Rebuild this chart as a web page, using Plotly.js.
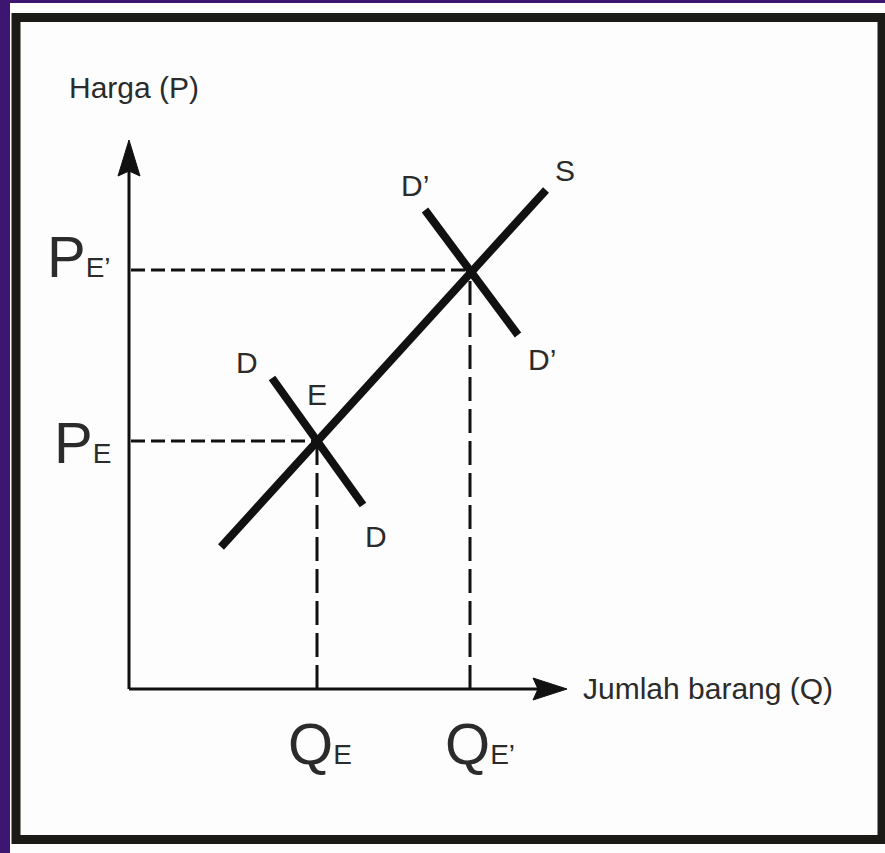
<!DOCTYPE html>
<html>
<head>
<meta charset="utf-8">
<script src="https://cdn.plot.ly/plotly-3.0.1.min.js"></script>
<style>html,body{margin:0;padding:0;background:#3c1670;}#chart{width:885px;height:853px;}</style>
</head>
<body>
<div id="chart"></div>
<script>
// ---- data (units; origin at the axes corner) ----
var axisTipQ = 43.8;           // end of the quantity axis (arrow tip)
var axisTipP = 54.9;           // end of the price axis (arrow tip)
var QE = 18.8, QE2 = 34.1;     // equilibrium quantities
var PE = 24.8, PE2 = 41.9;     // equilibrium prices
var supplyQ = [9.2, 41.7];
var supplyP = [14.2, 49.9];
var demandQ = [14.3, 23.4];
var demandP = [31.1, 18.4];
var demand2Q = [29.6, 38.9];
var demand2P = [47.9, 35.4];
var curveLabels = ["D’", "S", "D’", "D", "E", "D"];
var curveLabelQ = [28.6, 43.6, 41.3, 11.8, 18.8, 24.7];
var curveLabelP = [50.4, 51.9, 33.0, 32.7, 29.5, 15.3];
var yTitle = "Harga (P)";
var xTitle = "Jumlah barang (Q)";
var priceTicks = ["P<span style='font-size:28px'>E</span>", "P<span style='font-size:28px'>E’</span>"];
var qtyTicks = ["Q<span style='font-size:28px'>E</span>", "Q<span style='font-size:28px'>E’</span>"];
var priceTickPos = [24.7, 43.3];
var qtyTickPos = [19.1, 35.1];
var qtyTickLevel = -5.4;

var FONT = '"Liberation Sans", Arial, Helvetica, sans-serif';
var INK = '#111111';
var TXT = '#2b2b2b';

var traces = [];
// axes
traces.push({x:[0, axisTipQ - 2.5], y:[0, 0], mode:'lines', line:{color:INK, width:3}});
traces.push({x:[0, 0], y:[0, axisTipP - 2.5], mode:'lines', line:{color:INK, width:3}});
// dashed guides
traces.push({x:[0.2, QE], y:[PE, PE], mode:'lines', line:{color:INK, width:3, dash:'14px,6px'}});
traces.push({x:[0.2, QE2], y:[PE2, PE2], mode:'lines', line:{color:INK, width:3, dash:'14px,6px'}});
traces.push({x:[QE, QE], y:[0, PE], mode:'lines', line:{color:INK, width:3, dash:'24px,8px'}});
traces.push({x:[QE2, QE2], y:[0, PE2], mode:'lines', line:{color:INK, width:3, dash:'24px,8px'}});
// curves
traces.push({x:supplyQ, y:supplyP, mode:'lines', line:{color:INK, width:8}});
traces.push({x:demandQ, y:demandP, mode:'lines', line:{color:INK, width:8}});
traces.push({x:demand2Q, y:demand2P, mode:'lines', line:{color:INK, width:8}});

var ann = [];
for (var i = 0; i < curveLabels.length; i++) {
  ann.push({x:curveLabelQ[i], y:curveLabelP[i], text:curveLabels[i], showarrow:false,
    font:{family:FONT, size:30, color:TXT}, xanchor:'center', yanchor:'middle'});
}
ann.push({x:-6.2, y:60.2, text:yTitle, showarrow:false, xanchor:'left', yanchor:'middle',
  font:{family:FONT, size:30, color:TXT}});
ann.push({x:45.2, y:0.1, text:xTitle, showarrow:false, xanchor:'left', yanchor:'middle',
  font:{family:FONT, size:30, color:TXT}});
for (var j = 0; j < 2; j++) {
  ann.push({x:-1.6, y:priceTickPos[j], text:priceTicks[j], showarrow:false, xanchor:'right', yanchor:'middle',
    font:{family:FONT, size:58, color:TXT}});
}
for (var k = 0; k < 2; k++) {
  ann.push({x:qtyTickPos[k], y:qtyTickLevel, text:qtyTicks[k], showarrow:false, xanchor:'center', yanchor:'middle',
    font:{family:FONT, size:58, color:TXT}});
}

function px(v){return v/885;}
function py(v){return 1 - v/853;}
var shapes = [
  // white card
  {type:'rect', xref:'paper', yref:'paper', x0:px(10), x1:px(886), y0:py(853), y1:py(3),
   fillcolor:'#fdfdfd', line:{width:0}, layer:'below'},
  // black frame
  {type:'rect', xref:'paper', yref:'paper', x0:px(16), x1:px(882), y0:py(839.5), y1:py(17.5),
   fillcolor:'rgba(0,0,0,0)', line:{color:'#1c1a17', width:9}, layer:'below'},
  // arrow heads
  {type:'path', xref:'x', yref:'y', xsizemode:'pixel', ysizemode:'pixel', xanchor:0, yanchor:axisTipP,
   path:'M -11,-36 L 0,0 L 11,-36 L 0,-31 Z', fillcolor:INK, line:{color:INK, width:1}},
  {type:'path', xref:'x', yref:'y', xsizemode:'pixel', ysizemode:'pixel', xanchor:axisTipQ, yanchor:0,
   path:'M -34,11 L 0,0 L -34,-11 L -29,0 Z', fillcolor:INK, line:{color:INK, width:1}}
];

var layout = {
  width:885, height:853, autosize:false,
  margin:{l:0, r:0, t:0, b:0, pad:0},
  paper_bgcolor:'#3c1670', plot_bgcolor:'rgba(0,0,0,0)',
  showlegend:false, hovermode:false,
  xaxis:{range:[-12.9, 75.6], visible:false, fixedrange:true},
  yaxis:{range:[-16.4, 68.9], visible:false, fixedrange:true},
  annotations:ann, shapes:shapes
};
Plotly.newPlot('chart', traces, layout, {displayModeBar:false, staticPlot:true});
</script>
</body>
</html>
